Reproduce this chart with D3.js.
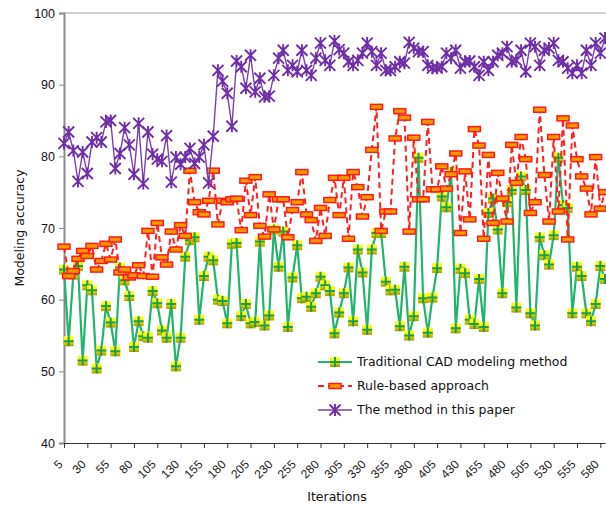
<!DOCTYPE html>
<html>
<head>
<meta charset="utf-8">
<script src="https://cdn.jsdelivr.net/npm/d3@7"></script>
<style>
  body { margin: 0; background: #fff; }
  svg { font-family: "DejaVu Sans", Verdana, sans-serif; }
</style>
</head>
<body>
<div id="chart"></div>
<script>
// iterations on the category axis (5, 10, ... 585)
const iterations = d3.range(5, 590, 5);
const xTickLabels = [5, 30, 55, 80, 105, 130, 155, 180, 205, 230, 255, 280, 305, 330, 355, 380, 405, 430, 455, 480, 505, 530, 555, 580];
const yTicks = [40, 50, 60, 70, 80, 90, 100];

const traditional = [64.2, 54.2, 63.5, 64.7, 51.5, 62.0, 61.3, 50.4, 52.9, 59.1,
  56.8, 52.8, 64.5, 62.7, 60.5, 53.4, 57.0, 54.9, 54.7, 61.2,
  59.5, 55.7, 54.7, 59.4, 50.7, 54.7, 66.0, 68.3, 68.7, 57.2,
  63.3, 66.0, 65.5, 60.0, 59.8, 56.7, 67.8, 67.9, 57.7, 59.4,
  56.7, 56.9, 68.1, 56.4, 57.8, 69.8, 64.6, 69.5, 56.2, 63.1,
  67.6, 60.2, 60.4, 59.0, 60.9, 63.2, 62.0, 61.2, 55.3, 58.2,
  60.9, 64.5, 57.0, 67.0, 63.8, 55.8, 67.0, 69.3, 69.3, 62.5,
  61.3, 61.4, 56.3, 64.6, 55.0, 57.7, 79.8, 60.2, 55.4, 60.3,
  64.4, 74.4, 72.9, 77.8, 56.0, 64.3, 63.7, 57.2, 56.6, 62.9,
  56.2, 72.1, 74.1, 69.8, 60.9, 73.6, 75.3, 58.9, 77.2, 75.3,
  58.1, 56.4, 68.7, 66.2, 64.9, 69.0, 79.8, 73.2, 72.8, 58.1,
  64.6, 63.3, 58.1, 57.0, 59.4, 64.7, 62.9];

const ruleBased = [67.4, 63.3, 64.0, 65.7, 66.8, 66.1, 67.5, 64.2, 65.4, 67.8,
  65.6, 68.4, 63.8, 64.2, 63.1, 63.4, 64.8, 63.3, 69.6, 63.2,
  70.7, 65.9, 64.9, 69.5, 67.0, 70.4, 68.9, 78.0, 73.6, 72.2,
  71.9, 73.8, 78.0, 70.5, 73.8, 73.6, 74.0, 74.1, 69.7, 76.6,
  71.8, 77.1, 70.3, 68.8, 74.7, 69.8, 74.0, 74.0, 68.7, 72.5,
  73.6, 77.8, 71.9, 71.1, 68.2, 72.8, 68.9, 73.9, 77.0, 71.8,
  77.0, 68.5, 77.8, 75.7, 71.6, 74.3, 80.9, 86.9, 69.6, 72.3,
  72.3, 82.5, 86.3, 85.4, 69.5, 82.6, 74.0, 74.0, 84.8, 75.4,
  75.4, 78.6, 75.5, 77.5, 80.4, 69.3, 77.9, 71.2, 83.8, 81.5,
  68.5, 80.2, 70.7, 77.7, 74.1, 70.9, 81.6, 76.3, 82.7, 79.6,
  72.1, 73.6, 86.5, 77.4, 70.9, 82.7, 72.3, 85.3, 68.4, 84.3,
  79.6, 77.2, 75.5, 71.9, 79.9, 72.7, 75.0];

const proposed = [81.8, 83.4, 80.8, 76.5, 80.6, 77.6, 82.0, 82.6, 82.0, 84.8,
  85.0, 78.3, 80.4, 84.0, 81.6, 77.5, 84.6, 76.2, 83.4, 80.3,
  79.6, 79.3, 82.9, 76.4, 79.9, 78.9, 79.9, 81.1, 79.0, 79.9,
  81.6, 76.3, 82.8, 92.0, 90.5, 88.8, 84.2, 93.3, 92.5, 89.5,
  94.1, 89.0, 90.9, 88.3, 88.4, 91.3, 93.7, 94.8, 92.0, 92.7,
  91.8, 94.8, 92.0, 91.3, 93.7, 95.8, 93.4, 92.7, 96.1, 94.9,
  94.4, 93.2, 92.7, 93.4, 94.4, 95.8, 94.6, 92.7, 94.4, 92.0,
  92.0, 92.5, 93.2, 93.0, 95.9, 95.1, 94.6, 94.6, 92.7, 92.3,
  92.3, 92.5, 94.4, 93.7, 94.8, 92.3, 93.2, 93.3, 92.5, 91.3,
  93.2, 92.0, 93.2, 94.1, 94.4, 95.3, 93.2, 93.4, 94.8, 91.8,
  95.8, 95.3, 92.7, 94.8, 95.1, 95.8, 93.4, 93.2, 92.3, 91.6,
  92.7, 91.6, 94.8, 92.7, 95.8, 94.4, 96.5];

const seriesNames = ["Traditional CAD modeling method", "Rule-based approach", "The method in this paper"];

const svgWidth = 606;
const svgHeight = 505;
const margin = { top: 13, right: 1, bottom: 62, left: 64 };

const svg = d3.select("#chart")
  .append("svg")
  .attr("width", svgWidth)
  .attr("height", svgHeight);

const x = d3.scalePoint(iterations, [margin.left, svgWidth - margin.right]);
const y = d3.scaleLinear([40, 100], [svgHeight - margin.bottom, margin.top]);

// gradient for the yellow square markers
const defs = svg.append("defs");
const grad = defs.append("linearGradient")
  .attr("id", "yellowGrad")
  .attr("x1", 0).attr("y1", 0).attr("x2", 0).attr("y2", 1);
grad.append("stop").attr("offset", "0%").attr("stop-color", "#ffff30");
grad.append("stop").attr("offset", "45%").attr("stop-color", "#f4ee00");
grad.append("stop").attr("offset", "100%").attr("stop-color", "#a89a00");

// top border line at 100
svg.append("line")
  .attr("x1", margin.left).attr("x2", svgWidth)
  .attr("y1", y(100)).attr("y2", y(100))
  .attr("stroke", "#d0d0d0")
  .attr("stroke-width", 2);

// y axis
const yAxis = svg.append("g")
  .attr("transform", `translate(${margin.left},0)`)
  .call(d3.axisLeft(y).tickValues(yTicks).tickSize(5).tickPadding(4));
yAxis.select(".domain").attr("stroke", "#8a8a8a").attr("stroke-width", 2);
yAxis.selectAll(".tick line").attr("stroke", "#8a8a8a");
yAxis.selectAll("text")
  .style("font-size", "12.5px")
  .style("fill", "#111");

// x axis
const xAxis = svg.append("g")
  .attr("transform", `translate(0,${y(40)})`)
  .call(d3.axisBottom(x).tickValues(xTickLabels).tickSize(5).tickSizeOuter(0));
xAxis.select(".domain").attr("stroke", "#333");
xAxis.selectAll(".tick line").attr("stroke", "#333");
xAxis.selectAll("text")
  .attr("x", 0)
  .attr("y", 0)
  .attr("dy", 0)
  .style("text-anchor", "end")
  .style("font-size", "12px")
  .style("fill", "#222")
  .attr("transform", "translate(-1,22) rotate(-45)");

// axis titles
svg.append("text")
  .attr("x", 337)
  .attr("y", 501)
  .attr("text-anchor", "middle")
  .style("font-size", "12.5px")
  .style("fill", "#111")
  .text("Iterations");

svg.append("text")
  .attr("transform", "rotate(-90)")
  .attr("x", -228)
  .attr("y", 24)
  .attr("text-anchor", "middle")
  .style("font-size", "12.5px")
  .style("fill", "#111")
  .text("Modeling accuracy");

const line = d3.line()
  .x((d, i) => x(iterations[i]))
  .y(d => y(d));

// marker painters
function greenMarker(g) {
  g.append("rect")
    .attr("x", -5).attr("y", -5)
    .attr("width", 10).attr("height", 10)
    .attr("fill", "url(#yellowGrad)");
  g.append("path")
    .attr("d", "M-5,0H5M0,-5V5")
    .attr("stroke", "#1c9e48")
    .attr("stroke-width", 2);
}
function redMarker(g) {
  g.append("rect")
    .attr("x", -6).attr("y", -2.5)
    .attr("width", 12).attr("height", 5)
    .attr("fill", "#ff9a00")
    .attr("stroke", "#ff1a1a")
    .attr("stroke-width", 1.5);
}
function purpleMarker(g) {
  g.append("path")
    .attr("d", "M-5.5,-5.5L5.5,5.5M-5.5,5.5L5.5,-5.5M0,-6V6")
    .attr("stroke", "#6f2da8")
    .attr("stroke-width", 1.9)
    .attr("fill", "none");
}

const series = [
  { data: traditional, color: "#22b46b", width: 2.2, dash: null, marker: greenMarker },
  { data: ruleBased, color: "#ff2020", width: 2, dash: "6,4", marker: redMarker },
  { data: proposed, color: "#7a3fb3", width: 1.4, dash: null, marker: purpleMarker }
];

series.forEach(s => {
  svg.append("path")
    .datum(s.data)
    .attr("d", line)
    .attr("fill", "none")
    .attr("stroke", s.color)
    .attr("stroke-width", s.width)
    .attr("stroke-dasharray", s.dash);

  svg.append("g")
    .selectAll("g")
    .data(s.data)
    .enter()
    .append("g")
    .attr("transform", (d, i) => `translate(${x(iterations[i])},${y(d)})`)
    .each(function () { s.marker(d3.select(this)); });
});

// legend
const legend = svg.append("g").attr("transform", "translate(318,362)");
series.forEach((s, i) => {
  const row = legend.append("g").attr("transform", `translate(0,${i * 24})`);
  row.append("line")
    .attr("x1", 0).attr("x2", 34)
    .attr("stroke", s.color)
    .attr("stroke-width", s.width)
    .attr("stroke-dasharray", s.dash);
  s.marker(row.append("g").attr("transform", "translate(17,0)"));
  row.append("text")
    .attr("x", 39)
    .attr("y", 0)
    .attr("dy", "0.35em")
    .style("font-size", "12.5px")
    .style("fill", "#111")
    .text(seriesNames[i]);
});
</script>
</body>
</html>
